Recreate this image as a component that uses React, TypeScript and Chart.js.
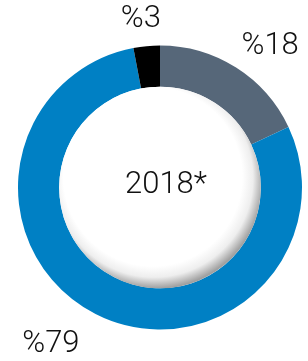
import React, { useEffect, useRef } from "react";
import { Chart, registerables } from "chart.js";

Chart.register(...registerables);

const categories = ["A", "B", "C"];
const values = [18, 79, 3];
const valueLabels = ["%18", "%79", "%3"];
const centerLabel = "2018*";
const colors = ["#566779", "#0080c4", "#000000"];
const labelShift = [
  [18, 4],
  [-31, 3],
  [-3, 3],
];

const FONT = "Roboto, 'Liberation Sans', Arial, sans-serif";

const decorPlugin = {
  id: "decor",
  afterDatasetsDraw(chart: any) {
    const meta = chart.getDatasetMeta(0);
    const arc0 = meta.data[0];
    if (!arc0) return;
    const { x: cx, y: cy, innerRadius, outerRadius } = arc0.getProps(
      ["x", "y", "innerRadius", "outerRadius"],
      true
    );
    const ctx = chart.ctx;
    ctx.save();
    // shaded inner disc
    const r = innerRadius;
    const g = ctx.createRadialGradient(cx - r * 0.15, cy - r * 0.2, r * 0.2, cx - r * 0.05, cy - r * 0.08, r * 1.08);
    g.addColorStop(0, "#ffffff");
    g.addColorStop(0.78, "#ffffff");
    g.addColorStop(0.89, "#eeeeee");
    g.addColorStop(1, "#a0a0a0");
    ctx.beginPath();
    ctx.arc(cx, cy, r, 0, Math.PI * 2);
    ctx.fillStyle = g;
    ctx.fill();

    // center text
    ctx.fillStyle = "#111";
    ctx.font = `300 31px ${FONT}`;
    ctx.textAlign = "center";
    ctx.textBaseline = "middle";
    ctx.fillText(centerLabel, cx + 6, cy - 2);

    // value labels
    meta.data.forEach((arc: any, i: number) => {
      const p = arc.getProps(["startAngle", "endAngle"], true);
      const mid = (p.startAngle + p.endAngle) / 2;
      const rr = outerRadius + 30;
      const x = cx + Math.cos(mid) * rr + labelShift[i][0];
      const y = cy + Math.sin(mid) * rr + labelShift[i][1];
      ctx.fillText(valueLabels[i], x, y);
    });
    ctx.restore();
  },
};

export default function App() {
  const ref = useRef<HTMLCanvasElement>(null);
  useEffect(() => {
    document.body.style.margin = "0";
    const chart = new Chart(ref.current!, {
      type: "doughnut",
      data: {
        labels: categories,
        datasets: [
          {
            data: values,
            backgroundColor: colors,
            borderWidth: 0,
          },
        ],
      },
      options: {
        responsive: false,
        animation: false,
        cutout: "71%",
        layout: { padding: { left: 18, right: 6, top: 45, bottom: 31 } },
        plugins: {
          legend: { display: false },
          tooltip: { enabled: false },
        },
      },
      plugins: [decorPlugin],
    });
    return () => chart.destroy();
  }, []);
  return (
    <div style={{ width: 308, height: 361, background: "#fff" }}>
      <canvas ref={ref} width={308} height={361} />
    </div>
  );
}
